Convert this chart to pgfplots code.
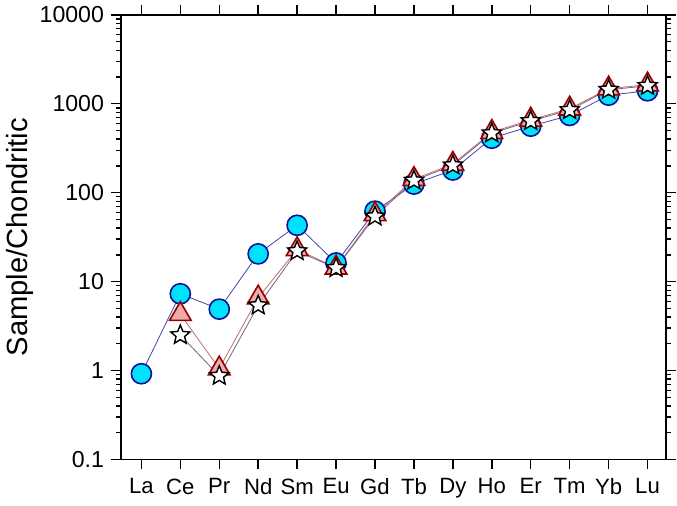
\documentclass[border=0pt]{standalone}
\usepackage{fontspec}
\setmainfont{Liberation Sans}
\usepackage{pgfplots}
\pgfplotsset{compat=1.18}

\definecolor{circfill}{RGB}{0,225,250}
\definecolor{circedge}{RGB}{10,20,150}
\definecolor{circline}{RGB}{70,70,170}
\definecolor{trifill}{RGB}{240,170,170}
\definecolor{triedge}{RGB}{150,0,0}
\definecolor{triline}{RGB}{190,110,110}
\definecolor{starline}{RGB}{120,100,130}

% five-pointed star outline
\pgfdeclareplotmark{fivestar}{%
  \pgfpathmoveto{\pgfqpointpolar{90}{\pgfplotmarksize}}%
  \pgfpathlineto{\pgfqpointpolar{126}{0.45\pgfplotmarksize}}%
  \pgfpathlineto{\pgfqpointpolar{162}{\pgfplotmarksize}}%
  \pgfpathlineto{\pgfqpointpolar{198}{0.45\pgfplotmarksize}}%
  \pgfpathlineto{\pgfqpointpolar{234}{\pgfplotmarksize}}%
  \pgfpathlineto{\pgfqpointpolar{270}{0.45\pgfplotmarksize}}%
  \pgfpathlineto{\pgfqpointpolar{306}{\pgfplotmarksize}}%
  \pgfpathlineto{\pgfqpointpolar{342}{0.45\pgfplotmarksize}}%
  \pgfpathlineto{\pgfqpointpolar{18}{\pgfplotmarksize}}%
  \pgfpathlineto{\pgfqpointpolar{54}{0.45\pgfplotmarksize}}%
  \pgfpathclose
  \pgfusepathqfillstroke
}

\begin{document}
\begin{tikzpicture}
\begin{axis}[
  scale only axis,
  width=271pt, height=221pt,
  ymode=log,
  ymin=0.1, ymax=10000,
  xmin=-0.52, xmax=13.48,
  xtick={0,...,13},
  xticklabels={La,Ce,Pr,Nd,Sm,Eu,Gd,Tb,Dy,Ho,Er,Tm,Yb,Lu},
  ytick={0.1,1,10,100,1000,10000},
  yticklabels={0.1,1,10,100,1000,10000},
  minor ytick={0.2,0.3,0.4,0.5,0.6,0.7,0.8,0.9,
               2,3,4,5,6,7,8,9,
               20,30,40,50,60,70,80,90,
               200,300,400,500,600,700,800,900,
               2000,3000,4000,5000,6000,7000,8000,9000},
  tick align=outside,
  major tick length=5pt,
  minor tick length=2.5pt,
  axis line style={line width=0.8pt},
  every tick/.style={black, line width=0.7pt},
  xticklabel style={font=\fontsize{11}{13}\selectfont, yshift=-1pt},
  yticklabel style={font=\fontsize{11.5}{13}\selectfont},
  /pgf/number format/assume math mode=true,
  ylabel={Sample/Chondritic},
  ylabel style={font=\fontsize{14.5}{17}\selectfont, yshift=-4pt},
  clip=false,
]
% circles
\addplot[color=circline, line width=0.4pt, mark=*, mark size=5pt,
  mark options={fill=circfill, draw=circedge, line width=0.8pt}] coordinates {
  (0,0.92) (1,7.3) (2,4.9) (3,20.5) (4,43) (5,16.2) (6,62)
  (7,125) (8,180) (9,410) (10,560) (11,740) (12,1250) (13,1400) };
% triangles
\addplot[color=triline, line width=0.4pt, mark=triangle*, mark size=6.2pt,
  mark options={fill=trifill, draw=triedge, line width=0.8pt}] coordinates {
  (1,4.3) (2,1.05) (3,6.6) (4,23) (5,14.3) (6,57)
  (7,142) (8,210) (9,480) (10,660) (11,880) (12,1480) (13,1640) };
% stars
\addplot[color=starline, line width=0.4pt, mark=fivestar, mark size=5pt,
  mark options={fill=white, draw=black, line width=0.7pt}] coordinates {
  (1,2.5) (2,0.87) (3,5.4) (4,22) (5,14.2) (6,54)
  (7,137) (8,203) (9,466) (10,640) (11,850) (12,1440) (13,1590) };
\end{axis}
\end{tikzpicture}
\end{document}
